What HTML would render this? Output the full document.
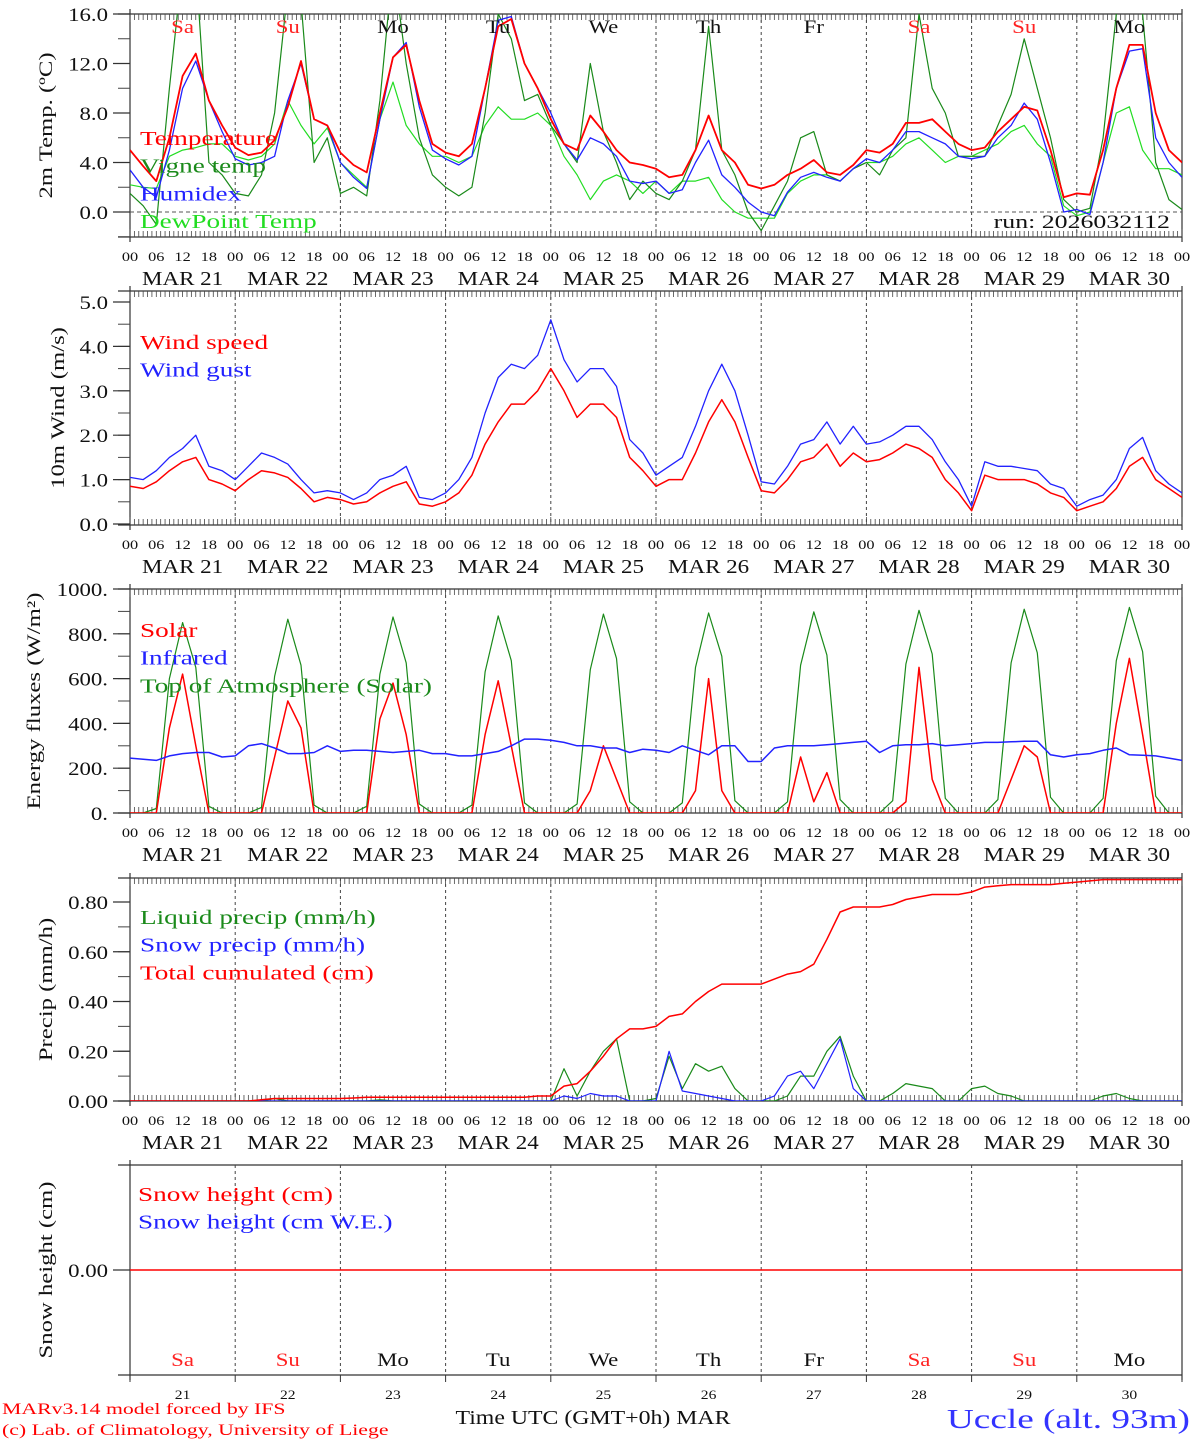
<!DOCTYPE html>
<html><head><meta charset="utf-8"><style>
html,body{margin:0;padding:0;background:#fff;}
svg{display:block;font-family:"Liberation Serif",serif;}
</style></head><body>
<svg id="c" width="1194" height="1440" viewBox="0 0 1194 1440" xmlns="http://www.w3.org/2000/svg"></svg>
<script>
// ---- data (3-hourly from MAR 21 00 UTC to MAR 31 00 UTC) ----
const days = ["21","22","23","24","25","26","27","28","29","30"];
const dayNames = ["Sa","Su","Mo","Tu","We","Th","Fr","Sa","Su","Mo"];
const hourTicks = ["00","06","12","18"];
const tempTicks = ["0.0","4.0","8.0","12.0","16.0"];
const windTicks = ["0.0","1.0","2.0","3.0","4.0","5.0"];
const fluxTicks = ["0.","200.","400.","600.","800.","1000."];
const precTicks = ["0.00","0.20","0.40","0.60","0.80"];
const temperature = [5.0,3.7,2.5,6,11,12.8,9,7, 5.2,4.6,4.8,5.8,8.5,12.2,7.5,7.0, 4.8,3.8,3.2,8,12.5,13.5,9,5.5, 4.8,4.5,5.5,10,15,15.6,12,10, 7.5,5.5,5.0,7.8,6.5,5.0,4.0,3.8, 3.5,2.8,3.0,5,7.8,5,4,2.2, 1.9,2.2,3.0,3.5,4.2,3.2,3.0,3.8, 5.0,4.8,5.5,7.2,7.2,7.5,6.5,5.5, 5.0,5.2,6.5,7.5,8.5,8.2,5.0,1.2, 1.5,1.4,5,10,13.5,13.5,8,5,4.0];
const humidex = [3.4,2,1.2,5,10,12.2,9,6.5, 4.3,3.8,4.0,4.5,9,12.0,7.5,7.0, 4.0,2.8,1.9,7.5,12.5,13.7,8.5,5.0, 4.3,3.8,4.5,10,15.5,15.8,12,10, 8,5.5,4.2,6,5.5,4.5,2.5,2.3, 2.5,1.5,1.8,4,5.8,3,2,0.8, 0,-0.3,1.6,2.8,3.2,2.8,2.5,3.5, 4.3,4.0,5.0,6.5,6.5,6.0,5.5,4.5, 4.3,4.5,6,7,8.8,7.5,4.0,0.0, 0.2,-0.2,4,10,13,13.2,6,4,2.8];
const vigneTemp = [1.5,0.5,-1,10,20,20,4,3, 1.5,1.3,3,8,18,17,4,6, 1.5,2,1.3,9,20,12,6,3, 2,1.3,2,8,16,14,9,9.5, 7,5.5,4.0,12,6.5,4,1,2.5, 1.5,1,2.5,5,15,5,3,0, -1.5,0.5,2.5,6,6.5,3,2.5,3.5, 4,3,5,6,16,10,8,4.5, 4.5,4.5,7,9.5,14,10,6,1, 0.0,0.3,6,16,20,16,4,1,0.2];
const dewPoint = [2.2,2.0,1.9,4.5,5.0,5.2,5.5,5.5, 4.5,4.2,4.5,5.5,9,7,5.5,6.8, 4.0,3.0,2.0,7.5,10.5,7,5.5,4.5, 4.5,4.0,4.5,7,8.5,7.5,7.5,8, 7,4.5,3,1,2.5,3,2.5,1.5, 2.5,1.5,2.5,2.5,2.8,1,0,-0.5, -0.5,-0.5,1.5,2.5,3,3,2.5,3.5, 4.0,4.0,4.5,5.5,6,5,4.0,4.5, 4.5,5,5.5,6.5,7,5.5,4.5,0.5, -0.3,0,4,8,8.5,5,3.5,3.5,3.0];
const windSpeed = [0.85,0.8,0.95,1.2,1.4,1.5,1.0,0.9, 0.75,1.0,1.2,1.15,1.05,0.8,0.5,0.6, 0.55,0.45,0.5,0.7,0.85,0.95,0.45,0.4, 0.5,0.7,1.1,1.8,2.3,2.7,2.7,3.0, 3.5,3.0,2.4,2.7,2.7,2.4,1.5,1.2, 0.85,1.0,1.0,1.6,2.3,2.8,2.3,1.5, 0.75,0.7,1.0,1.4,1.5,1.8,1.3,1.6, 1.4,1.45,1.6,1.8,1.7,1.5,1.0,0.7, 0.3,1.1,1.0,1.0,1.0,0.9,0.7,0.6, 0.3,0.4,0.5,0.8,1.3,1.5,1.0,0.8,0.6];
const windGust = [1.05,1.0,1.2,1.5,1.7,2.0,1.3,1.2, 1.0,1.3,1.6,1.5,1.35,1.0,0.7,0.75, 0.7,0.55,0.7,1.0,1.1,1.3,0.6,0.55, 0.7,1.0,1.5,2.5,3.3,3.6,3.5,3.8, 4.6,3.7,3.2,3.5,3.5,3.1,1.9,1.6, 1.1,1.3,1.5,2.2,3.0,3.6,3.0,2.0, 0.95,0.9,1.3,1.8,1.9,2.3,1.8,2.2, 1.8,1.85,2.0,2.2,2.2,1.9,1.4,1.0, 0.4,1.4,1.3,1.3,1.25,1.2,0.9,0.8, 0.4,0.55,0.65,1.0,1.7,1.95,1.2,0.9,0.7];
const solar = [0,0,0,380,620,300,0,0, 0,0,0,250,500,380,0,0, 0,0,0,420,580,350,0,0, 0,0,0,350,590,300,0,0, 0,0,0,100,300,150,0,0, 0,0,0,100,600,100,0,0, 0,0,0,250,50,180,0,0, 0,0,0,50,650,150,0,0, 0,0,0,150,300,250,0,0, 0,0,0,400,690,350,0,0,0];
const infrared = [245,240,235,255,265,270,270,250, 255,300,310,290,265,265,270,300, 275,280,280,275,270,275,280,265, 265,255,255,265,275,300,330,330, 325,315,300,300,290,290,270,285, 280,270,300,280,260,300,300,230, 230,290,300,300,300,305,310,315, 320,270,300,305,305,310,300,305, 310,315,315,318,320,320,260,250, 260,265,280,290,260,258,255,245,235];
const toaSolar = [0,0,20,600,850,650,30,0, 0,0,25,610,865,660,35,0, 0,0,30,620,875,670,40,0, 0,0,35,630,880,680,45,0, 0,0,40,640,888,690,50,0, 0,0,45,650,893,700,55,0, 0,0,50,660,898,705,60,0, 0,0,55,665,905,710,65,0, 0,0,60,670,910,715,70,0, 0,0,65,680,918,720,75,0,0];
const liquidPrecip = [0,0,0,0,0,0,0,0, 0,0,0,0.01,0,0,0,0, 0,0,0,0.005,0,0,0,0, 0,0,0,0,0,0,0,0, 0,0.13,0.02,0.12,0.2,0.25,0,0, 0.01,0.18,0.05,0.15,0.12,0.14,0.05,0, 0,0,0.02,0.1,0.1,0.2,0.26,0.1, 0,0,0.03,0.07,0.06,0.05,0,0, 0.05,0.06,0.03,0.02,0,0,0,0, 0,0,0.02,0.03,0.01,0,0,0,0];
const snowPrecip = [0,0,0,0,0,0,0,0, 0,0,0,0,0,0,0,0, 0,0,0,0,0,0,0,0, 0,0,0,0,0,0,0,0, 0,0.02,0.01,0.03,0.02,0.02,0,0, 0,0.2,0.04,0.03,0.02,0.01,0,0, 0,0.02,0.1,0.12,0.05,0.15,0.25,0.05, 0,0,0,0,0,0,0,0, 0,0,0,0,0,0,0,0, 0,0,0,0,0,0,0,0,0];
const totalCum = [0,0,0,0,0,0,0,0, 0,0,0.005,0.01,0.01,0.01,0.01,0.01, 0.01,0.012,0.015,0.015,0.015,0.015,0.015,0.015, 0.015,0.015,0.015,0.015,0.015,0.015,0.015,0.02, 0.02,0.06,0.07,0.12,0.18,0.25,0.29,0.29, 0.30,0.34,0.35,0.40,0.44,0.47,0.47,0.47, 0.47,0.49,0.51,0.52,0.55,0.65,0.76,0.78, 0.78,0.78,0.79,0.81,0.82,0.83,0.83,0.83, 0.84,0.86,0.865,0.87,0.87,0.87,0.87,0.875, 0.88,0.885,0.89,0.89,0.89,0.89,0.89,0.89,0.89];
const snowHeight = [0,0];

// ---- helpers ----
const svg = document.getElementById('c');
const NS = "http://www.w3.org/2000/svg";
const X0 = 130, X1 = 1182, DAYW = (X1 - X0) / 10;
const WIDEN = 1.36;
function xH(h){ return X0 + h * DAYW / 24; }
function mk(tag, attrs, parent){ const e = document.createElementNS(NS, tag); for (const k in attrs) e.setAttribute(k, attrs[k]); (parent||svg).appendChild(e); return e; }
function txt(s, x, y, size, fill, anchor, parent, widen){
  const t = mk('text', {x:x, y:y, 'font-size':size, fill:fill, 'text-anchor':anchor||'start'}, parent);
  t.textContent = s;
  const f = widen || WIDEN;
  try { const L = t.getComputedTextLength(); if (L > 0) { t.setAttribute('textLength', (L*f).toFixed(1)); t.setAttribute('lengthAdjust', 'spacingAndGlyphs'); } } catch(e) {}
  return t;
}

function panel(id, top, bot, yOf, ticks, tickVals, minorVals, title, titleX, showHours){
  const g = mk('g', {});
  
  
  const cp = mk('clipPath', {id: 'cp-' + id}, g);
  mk('rect', {x:X0, y:top, width:X1-X0, height:bot-top}, cp);
  mk('line', {x1:118, y1:top, x2:X1, y2:top, stroke:'#333', 'stroke-width':1.2}, g);
  mk('line', {x1:118, y1:bot, x2:X1, y2:bot, stroke:'#333', 'stroke-width':1.2}, g);
  mk('line', {x1:X0, y1:top-5, x2:X0, y2:bot+5, stroke:'#333', 'stroke-width':1.2}, g);
  mk('line', {x1:X1, y1:top-5, x2:X1, y2:bot+5, stroke:'#333', 'stroke-width':1.2}, g);
  for (let d = 1; d < 10; d++) {
    const x = xH(d*24);
    mk('line', {x1:x, y1:top, x2:x, y2:bot, stroke:'#444', 'stroke-width':1, 'stroke-dasharray':'3,3'}, g);
  }
  if (showHours) {
    for (let h = 0; h <= 240; h++) {
      const x = xH(h); const L = (h % 24 === 0) ? 8 : 6;
      mk('line', {x1:x, y1:top, x2:x, y2:top+L, stroke:'#444', 'stroke-width':0.8}, g);
      mk('line', {x1:x, y1:bot, x2:x, y2:bot-L, stroke:'#444', 'stroke-width':0.8}, g);
    }
    for (let h = 0; h <= 240; h += 6) {
      const t = txt(hourTicks[(h/6)%4], xH(h), bot+24, 13, '#111', 'middle', g, 1.25);
      
      
    }
    days.forEach((d, i) => {
      const t = txt('MAR ' + d, xH(i*24+12), bot+48, 20, '#111', 'middle', g, 1.15);
      
      
    });
  }
  minorVals.forEach(v => { const y = yOf(v); mk('line', {x1:118, y1:y, x2:X0, y2:y, stroke:'#444', 'stroke-width':1}, g); });
  ticks.forEach((s, i) => {
    const y = yOf(tickVals[i]);
    mk('line', {x1:113, y1:y, x2:X0, y2:y, stroke:'#333', 'stroke-width':1.2}, g);
    const t = txt(s, 108, y + 7, 19, '#111', 'end', g, 1.2);
    
    
  });
  const yc = (top + bot) / 2;
  const tt = txt(title, titleX, yc, 19, '#111', 'middle', g, 1.3);
  tt.setAttribute('transform', 'rotate(-90 ' + titleX + ' ' + yc + ')');
  
  
  return g;
}
function series(g, id, arr, yOf, color, width, name){
  let d = '';
  arr.forEach((v, i) => { d += (i ? 'L' : 'M') + xH(i*3).toFixed(1) + ',' + yOf(v).toFixed(1); });
  const p = mk('path', {d:d, fill:'none', stroke:color, 'stroke-width':width, 'clip-path':'url(#cp-' + id + ')', 'stroke-linejoin':'round'}, g);
  
  
}
function legend(g, items, x, y0){
  items.forEach((it, i) => {
    const t = txt(it[0], x, y0 + i*27.7, 20, it[1], 'start', g);
    
    
  });
}
function range(a, b, s){ const r = []; for (let v = a; v <= b + 1e-9; v += s) r.push(+v.toFixed(4)); return r; }

// ---- panel 1: temperature ----
const yT = v => 212 - v * 12.375;
const g1 = panel('temp', 14, 237, yT, tempTicks, [0,4,8,12,16], range(-2,16,2), '2m Temp. (\u00BAC)', 52, true);
mk('line', {x1:X0, y1:yT(0), x2:X1, y2:yT(0), stroke:'#555', 'stroke-width':1, 'stroke-dasharray':'4,3'}, g1);
series(g1, 'temp', dewPoint, yT, '#22dd22', 1.2, 'dewpoint-line');
series(g1, 'temp', vigneTemp, yT, '#1a8a1a', 1.2, 'vigne-temp-line');
series(g1, 'temp', humidex, yT, '#2222ff', 1.3, 'humidex-line');
series(g1, 'temp', temperature, yT, '#ff0000', 1.8, 'temperature-line');
legend(g1, [['Temperature','#ff0000'],['Vigne temp','#1a8a1a'],['Humidex','#2222ff'],['DewPoint Temp','#22dd22']], 140, 145);
dayNames.forEach((n, i) => {
  const t = txt(n, xH(i*24+12), 33, 19, (n === 'Sa' || n === 'Su') ? '#ff2222' : '#111', 'middle', g1, 1.2);
  
  
});
const run = txt('run: 2026032112', 1170, 228, 19, '#111', 'end', g1);



// ---- panel 2: wind ----
const yW = v => 524 - v * 44.4;
const g2 = panel('wind', 291, 525, yW, windTicks, [0,1,2,3,4,5], range(0,5,0.5), '10m Wind (m/s)', 64, true);
series(g2, 'wind', windGust, yW, '#2222ff', 1.3, 'wind-gust-line');
series(g2, 'wind', windSpeed, yW, '#ff0000', 1.5, 'wind-speed-line');
legend(g2, [['Wind speed','#ff0000'],['Wind gust','#2222ff']], 140, 349);

// ---- panel 3: energy ----
const yE = v => 813 - v * 0.224;
const g3 = panel('energy', 589, 813, yE, fluxTicks, [0,200,400,600,800,1000], range(0,1000,100), 'Energy fluxes (W/m\u00B2)', 40, true);
series(g3, 'energy', toaSolar, yE, '#1a8a1a', 1.2, 'toa-solar-line');
series(g3, 'energy', solar, yE, '#ff0000', 1.5, 'solar-line');
series(g3, 'energy', infrared, yE, '#2222ff', 1.5, 'infrared-line');
legend(g3, [['Solar','#ff0000'],['Infrared','#2222ff'],['Top of Atmosphere (Solar)','#1a8a1a']], 140, 637);

// ---- panel 4: precip ----
const yP = v => 1101 - v * 248.75;
const g4 = panel('precip', 878, 1101, yP, precTicks, [0,0.2,0.4,0.6,0.8], range(0,0.8,0.1), 'Precip (mm/h)', 52, true);
series(g4, 'precip', liquidPrecip, yP, '#1a8a1a', 1.2, 'liquid-precip-line');
series(g4, 'precip', snowPrecip, yP, '#2222ff', 1.2, 'snow-precip-line');
series(g4, 'precip', totalCum, yP, '#ff0000', 1.5, 'total-cumulated-line');
legend(g4, [['Liquid precip (mm/h)','#1a8a1a'],['Snow precip (mm/h)','#2222ff'],['Total cumulated (cm)','#ff0000']], 140, 924);

// ---- panel 5: snow ----
const yS = v => 1270 - v * 100;
const g5 = panel('snow', 1165, 1375, yS, ['0.00'], [0], [], 'Snow height (cm)', 52, false);
for (let d = 0; d <= 10; d++) mk('line', {x1:xH(d*24), y1:1375, x2:xH(d*24), y2:1382, stroke:'#333', 'stroke-width':1}, g5);
const sl = mk('line', {x1:X0, y1:yS(snowHeight[0]), x2:X1, y2:yS(snowHeight[1]), stroke:'#ff0000', 'stroke-width':1.5}, g5);


legend(g5, [['Snow height (cm)','#ff0000'],['Snow height (cm W.E.)','#2222ff']], 138, 1201);
dayNames.forEach((n, i) => {
  const t = txt(n, xH(i*24+12), 1366, 19, (n === 'Sa' || n === 'Su') ? '#ff2222' : '#111', 'middle', g5, 1.2);
  
  
  const t2 = txt(days[i], xH(i*24+12), 1399, 13, '#111', 'middle', g5, 1.2);
  
  
});

// ---- footer ----
const f1 = txt('MARv3.14 model forced by IFS', 2, 1414, 16, '#ff0000', 'start');


const f2 = txt('(c) Lab. of Climatology, University of Liege', 2, 1435, 16, '#ff0000', 'start');


const f3 = txt('Time UTC (GMT+0h) MAR', 593, 1424, 20, '#111', 'middle', null, 1.19);


const f4 = txt('Uccle (alt. 93m)', 1190, 1428, 27, '#3333ff', 'end', null, 1.38);


</script>
</body></html>
